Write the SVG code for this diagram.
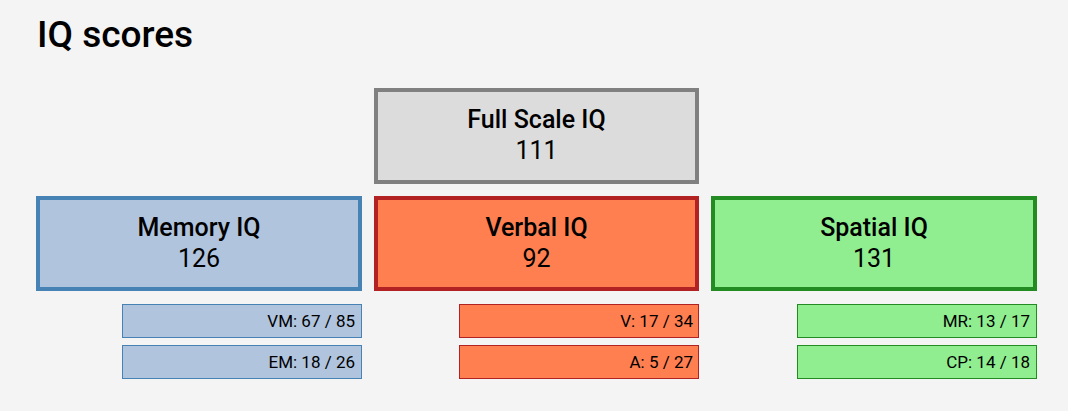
<svg xmlns="http://www.w3.org/2000/svg" width="1068" height="411" viewBox="0 0 1068 411">
<style>
text{font-family:Roboto,"Liberation Sans",sans-serif;fill:#000}
.title{font-size:37px;font-weight:500}
.h{font-size:25px;font-weight:500;text-anchor:middle}
.v{font-size:25px;font-weight:400;text-anchor:middle}
.s{font-size:17px;text-anchor:end}
.big{stroke-width:4}
.sub{stroke-width:1}
.gray{fill:#dcdcdc;stroke:#808080}
.mem{fill:#b0c4de;stroke:#4682b4}
.verb{fill:#ff7f50;stroke:#b22222}
.spa{fill:#90ee90;stroke:#228b22}
</style>
<rect width="1068" height="411" fill="#f4f4f4"/>
<text class="title" x="37" y="47">IQ scores</text>
<g id="fsiq">
<rect class="big gray" x="376" y="90" width="321" height="92"/>
<text class="h" x="536.5" y="128">Full Scale IQ</text>
<text class="v" x="536.5" y="159">111</text>
</g>
<g id="memory">
<rect class="big mem" x="38" y="198" width="322" height="91"/>
<text class="h" x="199" y="236">Memory IQ</text>
<text class="v" x="199" y="267">126</text>
</g>
<g id="verbal">
<rect class="big verb" x="376" y="198" width="321" height="91"/>
<text class="h" x="536.5" y="236">Verbal IQ</text>
<text class="v" x="536.5" y="267">92</text>
</g>
<g id="spatial">
<rect class="big spa" x="713" y="198" width="322" height="91"/>
<text class="h" x="874" y="236">Spatial IQ</text>
<text class="v" x="874" y="267">131</text>
</g>
<g id="vm">
<rect class="sub mem" x="122.5" y="304.5" width="239" height="33"/>
<text class="s" x="355" y="327">VM: 67 / 85</text>
</g>
<g id="em">
<rect class="sub mem" x="122.5" y="345.5" width="239" height="33"/>
<text class="s" x="355" y="368">EM: 18 / 26</text>
</g>
<g id="v">
<rect class="sub verb" x="459.5" y="304.5" width="239" height="33"/>
<text class="s" x="693" y="327">V: 17 / 34</text>
</g>
<g id="a">
<rect class="sub verb" x="459.5" y="345.5" width="239" height="33"/>
<text class="s" x="693" y="368">A: 5 / 27</text>
</g>
<g id="mr">
<rect class="sub spa" x="797.5" y="304.5" width="239" height="33"/>
<text class="s" x="1030" y="327">MR: 13 / 17</text>
</g>
<g id="cp">
<rect class="sub spa" x="797.5" y="345.5" width="239" height="33"/>
<text class="s" x="1030" y="368">CP: 14 / 18</text>
</g>
<g id="connectors"></g>
</svg>
